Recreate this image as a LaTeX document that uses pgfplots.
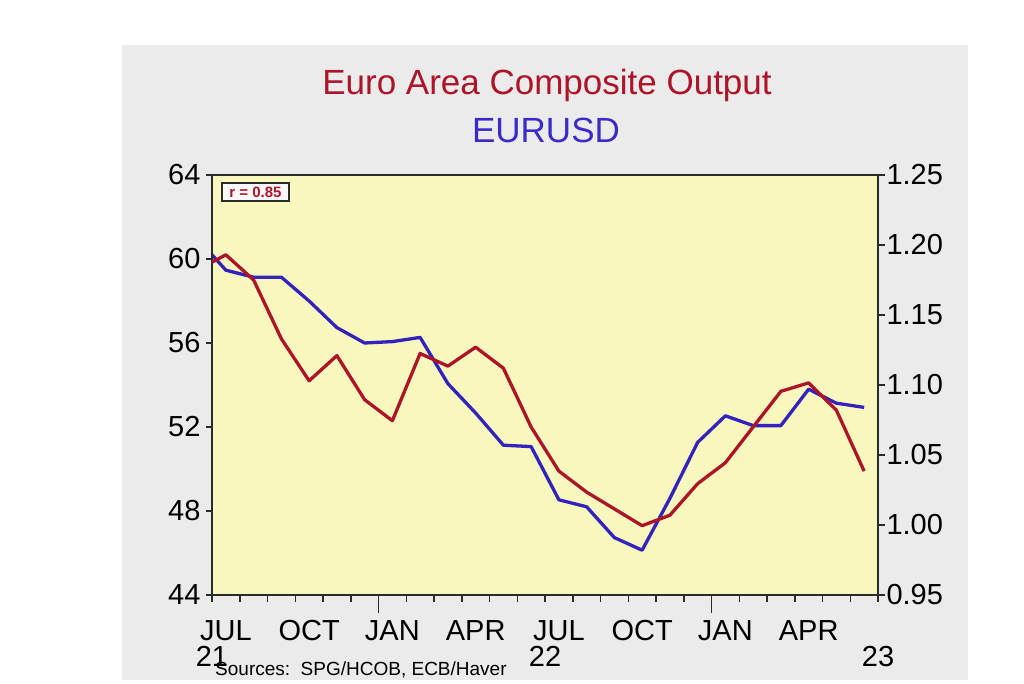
\documentclass[border=0pt]{standalone}
\usepackage{pgfplots}
\pgfplotsset{compat=1.18}
\usepackage{fontspec}
\setmainfont{Liberation Sans}
\definecolor{pmired}{HTML}{AE1428}
\definecolor{fxblue}{HTML}{3322BB}
\definecolor{titleblue}{HTML}{3A2BC8}
\definecolor{panelgray}{HTML}{EBEBEB}
\definecolor{plotyellow}{HTML}{F8F7BE}
\definecolor{framegray}{HTML}{2B2B2B}

\pgfplotstableread{
x pmi
-0.5 59.5
0.5 60.2
1.5 59.0
2.5 56.2
3.5 54.2
4.5 55.4
5.5 53.3
6.5 52.3
7.5 55.5
8.5 54.9
9.5 55.8
10.5 54.8
11.5 52.0
12.5 49.9
13.5 48.9
14.5 48.1
15.5 47.3
16.5 47.8
17.5 49.3
18.5 50.3
19.5 52.0
20.5 53.7
21.5 54.1
22.5 52.8
23.5 49.9
}\pmidata

\pgfplotstableread{
x fx
-0.5 1.204
0.5 1.182
1.5 1.177
2.5 1.177
3.5 1.160
4.5 1.141
5.5 1.130
6.5 1.131
7.5 1.134
8.5 1.101
9.5 1.080
10.5 1.057
11.5 1.056
12.5 1.018
13.5 1.013
14.5 0.991
15.5 0.982
16.5 1.019
17.5 1.059
18.5 1.078
19.5 1.071
20.5 1.071
21.5 1.097
22.5 1.087
23.5 1.084
}\fxdata

\begin{document}
\begin{tikzpicture}[x=1pt,y=1pt]
\useasboundingbox (0,0) rectangle (1024,683);
\fill[panelgray] (122,3) rectangle (968,638);

% right axis: EURUSD
\begin{axis}[
  at={(212pt,88pt)}, anchor=south west,
  scale only axis, width=666pt, height=420pt,
  xmin=0, xmax=24, ymin=0.95, ymax=1.25,
  axis background/.style={fill=plotyellow},
  axis line style={framegray, line width=2.5pt},
  ytick pos=right, yticklabel pos=right,
  ytick={0.95,1,1.05,1.1,1.15,1.2,1.25},
  yticklabels={0.95,1.00,1.05,1.10,1.15,1.20,1.25},
  xtick={0,1,...,24}, xticklabels={}, xtick pos=left,
  tick align=outside, major tick length=7pt,
  tick style={framegray, line width=1.5pt},
  extra x ticks={6,18}, extra x tick labels={},
  extra x tick style={major tick length=18pt},
  tick label style={font=\fontsize{29}{32}\selectfont, text=black},
  yticklabel style={xshift=-2pt},
]
\addplot[fxblue, line width=3.3pt, line join=round] table[x=x, y=fx] {\fxdata};
\end{axis}

% left axis: PMI
\begin{axis}[
  at={(212pt,88pt)}, anchor=south west,
  scale only axis, width=666pt, height=420pt,
  xmin=0, xmax=24, ymin=44, ymax=64,
  axis line style={framegray, line width=2.5pt},
  ytick pos=left, yticklabel pos=left,
  ytick={44,48,52,56,60,64},
  yticklabels={44,48,52,56,60,64},
  xtick={0.5,3.5,6.5,9.5,12.5,15.5,18.5,21.5},
  xticklabels={JUL,OCT,JAN,APR,JUL,OCT,JAN,APR},
  xtick pos=left,
  tick align=outside, major tick length=6pt,
  tick style={framegray, line width=1.5pt},
  xtick style={draw=none},
  xticklabel style={text height=21pt, text depth=0pt, yshift=-15pt},
  extra x ticks={0,12,24}, extra x tick labels={21,22,23},
  extra x tick style={xtick style={draw=none}, xticklabel style={text height=21pt, text depth=0pt, yshift=-26pt}},
  tick label style={font=\fontsize{29}{32}\selectfont, text=black},
  yticklabel style={xshift=-2pt},
]
\addplot[pmired, line width=3.3pt, line join=round] table[x=x, y=pmi] {\pmidata};
\end{axis}

\node[anchor=base, text=pmired, font=\fontsize{35}{40}\selectfont] at (547,588) {Euro Area Composite Output};
\node[anchor=base, text=titleblue, font=\fontsize{35}{40}\selectfont] at (546,540) {EURUSD};
\node[anchor=west, font=\fontsize{19}{22}\selectfont, inner sep=0pt] at (215,13) {Sources:\ \ SPG/HCOB, ECB/Haver};
\node[draw=framegray, line width=1.5pt, fill=white!92!pink, text=pmired, font=\bfseries\fontsize{15}{17}\selectfont, minimum width=67pt, minimum height=18pt, inner sep=0pt] at (255.5,491) {r = 0.85};
\end{tikzpicture}
\end{document}
